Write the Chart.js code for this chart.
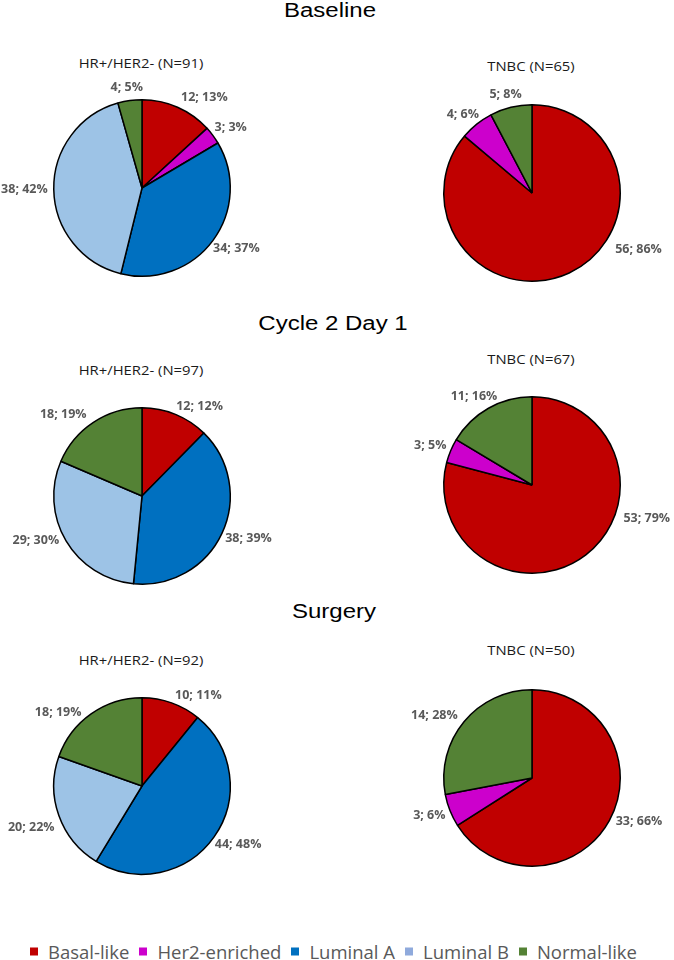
<!DOCTYPE html>
<html>
<head>
<meta charset="utf-8">
<script src="https://cdn.jsdelivr.net/npm/chart.js@4.4.1/dist/chart.umd.min.js"></script>
<style>
  body { margin: 0; width: 674px; height: 960px; overflow: hidden; background: #fff; position: relative; font-family: "Open Sans", Lato, sans-serif; }
  .box { position: absolute; width: 300px; height: 240px; }
  .main { position: absolute; font-family: "Liberation Sans", Arial, sans-serif; font-size: 20px; color: #000; transform: translate(-50%, -50%) scaleX(1.2); white-space: nowrap; }
  .sub { position: absolute; font-size: 13px; color: #1a1a1a; transform: translate(-50%, -50%) scaleX(1.14); white-space: nowrap; }
  #legend { position: absolute; left: 30px; top: 951px; transform: translateY(-50%); display: flex; align-items: center; font-size: 18.5px; color: #595959; white-space: nowrap; }
  #legend .sw { display: inline-block; width: 8px; height: 8px; margin-right: 10px; }
  #legend .it { display: flex; align-items: center; margin-right: 10px; }
</style>
</head>
<body>

<script>
const categories = ['Basal-like', 'Her2-enriched', 'Luminal A', 'Luminal B', 'Normal-like'];
const sliceColors = ['#C00000', '#CC00CC', '#0070C0', '#9DC3E6', '#548235'];
const legendColors = ['#C00000', '#CC00CC', '#0070C0', '#8FAADC', '#548235'];

// counts and the percentages as printed on the slices
const baselineHR = [12, 3, 34, 38, 4];
const baselineHRPct = [13, 3, 37, 42, 5];
const baselineTNBC = [56, 4, 0, 0, 5];
const baselineTNBCPct = [86, 6, 0, 0, 8];

const c2d1HR = [12, 0, 38, 29, 18];
const c2d1HRPct = [12, 0, 39, 30, 19];
const c2d1TNBC = [53, 3, 0, 0, 11];
const c2d1TNBCPct = [79, 5, 0, 0, 16];

const surgeryHR = [10, 0, 44, 20, 18];
const surgeryHRPct = [11, 0, 48, 22, 19];
const surgeryTNBC = [33, 3, 0, 0, 14];
const surgeryTNBCPct = [66, 6, 0, 0, 28];

const timepoints = ['Baseline', 'Cycle 2 Day 1', 'Surgery'];

// draws "n; p%" just outside each slice
const outsideLabels = {
    id: 'outsideLabels',
    afterDatasetsDraw(chart, args, opts) {
        const ctx = chart.ctx;
        const meta = chart.getDatasetMeta(0);
        const values = chart.data.datasets[0].data;
        const nudge = opts.nudge || {};
        ctx.save();
        ctx.font = 'bold 12.5px "Open Sans"';
        ctx.fillStyle = '#595959';
        ctx.textAlign = 'center';
        ctx.textBaseline = 'middle';
        meta.data.forEach((arc, i) => {
            if (!values[i]) return;
            const p = arc.getProps(['x', 'y', 'startAngle', 'endAngle', 'outerRadius'], true);
            const mid = (p.startAngle + p.endAngle) / 2;
            const dx = Math.cos(mid), dy = Math.sin(mid);
            const text = values[i] + '; ' + opts.pct[i] + '%';
            const w = ctx.measureText(text).width, h = 14;
            const n = nudge[i] || [0, 0];
            const x = p.x + dx * (p.outerRadius + 6) + dx * w / 2 + n[0];
            const y = p.y + dy * (p.outerRadius + 6) + dy * h / 2 + n[1];
            ctx.fillText(text, x, y);
        });
        ctx.restore();
    }
};

const panels = [
    { title: 'HR+/HER2- (N=91)', data: baselineHR, pct: baselineHRPct, cx: 141.7, cy: 187.7, ty: 63, nudge: { 0: [15, 2] } },
    { title: 'TNBC (N=65)', data: baselineTNBC, pct: baselineTNBCPct, cx: 532, cy: 193, ty: 66, nudge: { 0: [57, -35] } },
    { title: 'HR+/HER2- (N=97)', data: c2d1HR, pct: c2d1HRPct, cx: 141.7, cy: 496, ty: 370, nudge: { 0: [13, 4], 3: [-5, -7], 4: [-14, 3] } },
    { title: 'TNBC (N=67)', data: c2d1TNBC, pct: c2d1TNBCPct, cx: 532, cy: 485, ty: 359, nudge: { 0: [43, -47] } },
    { title: 'HR+/HER2- (N=92)', data: surgeryHR, pct: surgeryHRPct, cx: 141.7, cy: 785.5, ty: 660, nudge: { 0: [17, 5], 3: [0, 8], 4: [-16, 9] } },
    { title: 'TNBC (N=50)', data: surgeryTNBC, pct: surgeryTNBCPct, cx: 532, cy: 778, ty: 650, nudge: { 0: [4, -5], 4: [-7, 2] } }
];

const mainY = [10, 323, 611];
const mainX = [330, 333, 334];

timepoints.forEach((t, i) => {
    const d = document.createElement('div');
    d.className = 'main';
    d.style.left = mainX[i] + 'px';
    d.style.top = mainY[i] + 'px';
    d.textContent = t;
    document.body.appendChild(d);
});

const W = 300, H = 240, D = 178;

panels.forEach(pn => {
    const sub = document.createElement('div');
    sub.className = 'sub';
    sub.style.left = (pn.cx - 1) + 'px';
    sub.style.top = pn.ty + 'px';
    sub.textContent = pn.title;
    document.body.appendChild(sub);

    const box = document.createElement('div');
    box.className = 'box';
    box.style.left = (pn.cx - W / 2) + 'px';
    box.style.top = (pn.cy - H / 2) + 'px';
    const canvas = document.createElement('canvas');
    box.appendChild(canvas);
    document.body.appendChild(box);

    new Chart(canvas, {
        type: 'pie',
        data: {
            labels: categories,
            datasets: [{
                data: pn.data,
                backgroundColor: sliceColors,
                borderColor: '#000',
                borderWidth: 1.5
            }]
        },
        options: {
            responsive: true,
            maintainAspectRatio: false,
            animation: false,
            layout: {
                padding: { left: (W - D) / 2, right: (W - D) / 2, top: (H - D) / 2, bottom: (H - D) / 2 }
            },
            plugins: {
                legend: { display: false },
                tooltip: { enabled: false },
                outsideLabels: { pct: pn.pct, nudge: pn.nudge }
            }
        },
        plugins: [outsideLabels]
    });
});

// shared legend under the grid
const legend = document.createElement('div');
legend.id = 'legend';
categories.forEach((c, i) => {
    const it = document.createElement('span');
    it.className = 'it';
    const sw = document.createElement('span');
    sw.className = 'sw';
    sw.style.background = legendColors[i];
    it.appendChild(sw);
    it.appendChild(document.createTextNode(c));
    legend.appendChild(it);
});
document.body.appendChild(legend);
</script>
</body>
</html>
